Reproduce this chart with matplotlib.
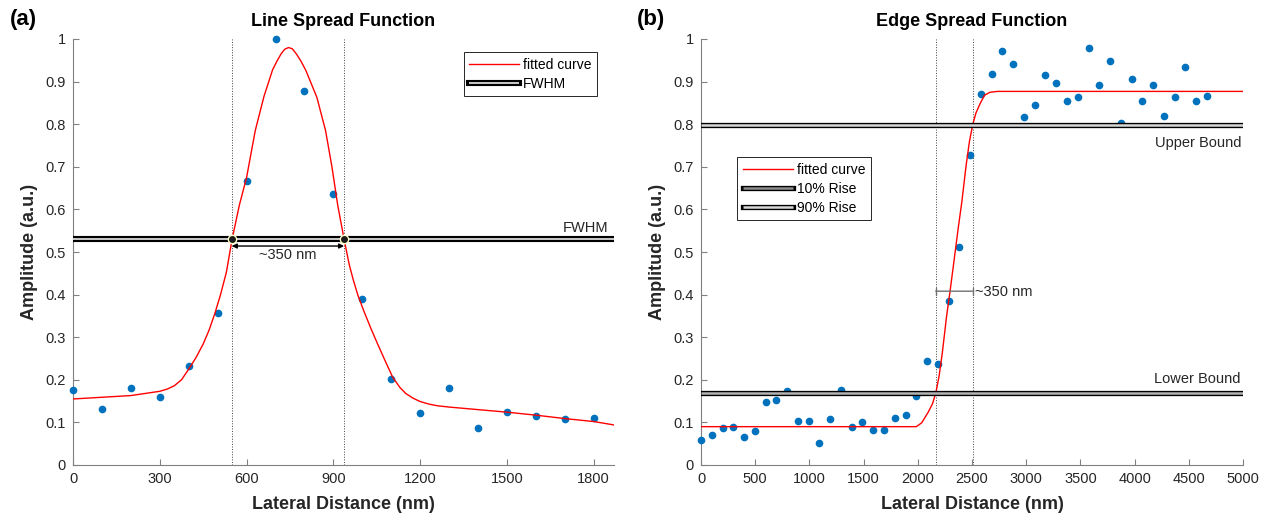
import numpy as np
import matplotlib
matplotlib.use("Agg")
import matplotlib.pyplot as plt
import matplotlib.patheffects as pe
from matplotlib.lines import Line2D

plt.rcParams['font.family'] = ['Liberation Sans', 'DejaVu Sans']

# ---- Line spread function data ----
lsf_x = [0, 100, 200, 300, 400, 500, 600, 700, 800, 900,
         1000, 1100, 1200, 1300, 1400, 1500, 1600, 1700, 1800]
lsf_y = [0.177, 0.132, 0.181, 0.160, 0.232, 0.356, 0.666, 1.000, 0.878, 0.637,
         0.389, 0.202, 0.122, 0.180, 0.087, 0.125, 0.115, 0.108, 0.110]

lsf_fit_x = [0, 100, 200, 300, 325, 350, 375, 400, 425, 450, 470, 490, 510, 530,
             550, 575, 600, 630, 660, 690, 705, 720, 732, 745, 758, 772, 788, 805,
             843, 873, 895, 915, 937, 955, 969, 985, 1005, 1030, 1053, 1080, 1105,
             1130, 1150, 1175, 1200, 1230, 1260, 1300, 1400, 1500, 1600, 1700,
             1800, 1870]
lsf_fit_y = [0.155, 0.159, 0.163, 0.173, 0.178, 0.186, 0.200, 0.225, 0.252, 0.284,
             0.316, 0.355, 0.400, 0.452, 0.530, 0.610, 0.675, 0.785, 0.865, 0.928,
             0.948, 0.966, 0.976, 0.980, 0.977, 0.965, 0.948, 0.926, 0.863, 0.785,
             0.700, 0.610, 0.530, 0.470, 0.434, 0.398, 0.362, 0.320, 0.284, 0.243,
             0.206, 0.182, 0.168, 0.157, 0.149, 0.143, 0.139, 0.136, 0.130, 0.124,
             0.117, 0.109, 0.102, 0.094]

fwhm_level = 0.53
fwhm_x = [549, 937]

# ---- Edge spread function data ----
esf_y = [0.059, 0.071, 0.086, 0.089, 0.065, 0.080, 0.149, 0.152, 0.173, 0.103,
         0.103, 0.051, 0.109, 0.175, 0.090, 0.100, 0.082, 0.082, 0.110, 0.117,
         0.162, 0.245, 0.236, 0.386, 0.512, 0.728, 0.872, 0.919, 0.972, 0.941,
         0.816, 0.844, 0.915, 0.897, 0.855, 0.865, 0.979, 0.893, 0.948, 0.803,
         0.907, 0.855, 0.893, 0.820, 0.865, 0.935, 0.854, 0.866]
esf_x = np.arange(len(esf_y)) * 99.3

esf_fit_x = [0, 1000, 1900, 1986, 2036, 2096, 2136, 2166, 2196, 2226, 2266, 2296,
             2336, 2376, 2406, 2446, 2476, 2506, 2536, 2576, 2616, 2666, 2736, 5000]
esf_fit_y = [0.090, 0.090, 0.090, 0.090, 0.099, 0.124, 0.144, 0.169, 0.208, 0.263,
             0.350, 0.405, 0.483, 0.562, 0.617, 0.704, 0.759, 0.798, 0.826, 0.849,
             0.868, 0.875, 0.877, 0.877]

lower_bound = 0.169
upper_bound = 0.797
rise_x = [2166, 2506]

RED = '#ff0000'
BLUE = '#0072bd'
AXC = '#808080'
TXT = '#262626'


def style_axes(ax, xlim, xticks):
    ax.set_xlim(*xlim)
    ax.set_ylim(0, 1)
    ax.set_xticks(xticks)
    ax.set_yticks(np.arange(0, 1.01, 0.1))
    ax.set_yticklabels(['0', '0.1', '0.2', '0.3', '0.4', '0.5', '0.6', '0.7', '0.8', '0.9', '1'])
    for s in ['top', 'right']:
        ax.spines[s].set_visible(False)
    for s in ['left', 'bottom']:
        ax.spines[s].set_color(AXC)
        ax.spines[s].set_linewidth(0.8)
    ax.tick_params(direction='in', length=4, width=0.8, color=AXC,
                   labelcolor=TXT, labelsize=10.5, pad=5)
    ax.set_ylabel('Amplitude (a.u.)', fontsize=13, fontweight='bold', color=TXT)
    ax.set_xlabel('Lateral Distance (nm)', fontsize=13, fontweight='bold', color=TXT)
    ax.yaxis.set_label_coords(-0.064, 0.5)
    ax.xaxis.set_label_coords(0.5, -0.072)


def double_line_fx(outer):
    return [pe.Stroke(linewidth=outer, foreground='black', capstyle='projecting'), pe.Normal()]


fig = plt.figure(figsize=(12.63, 5.19), dpi=100)
ax1 = fig.add_axes([73 / 1263, 1 - 465 / 519, 541 / 1263, 426 / 519])
ax2 = fig.add_axes([701 / 1263, 1 - 465 / 519, 542 / 1263, 426 / 519])

# ---------------- (a) Line Spread Function ----------------
style_axes(ax1, (0, 1870), [0, 300, 600, 900, 1200, 1500, 1800])
for xv in fwhm_x:
    ax1.axvline(xv, color='#404040', lw=0.7, ls=':', zorder=2)
ax1.plot(lsf_x, lsf_y, 'o', color=BLUE, ms=4.5, clip_on=False, zorder=3)
fit1, = ax1.plot(lsf_fit_x, lsf_fit_y, color=RED, lw=1, zorder=4, label='fitted curve')
ax1.axhline(fwhm_level, color='white', lw=1.1, solid_capstyle='butt',
            path_effects=double_line_fx(4.4), zorder=5)
ax1.plot(fwhm_x, [fwhm_level, fwhm_level], 'o', color='#1a1a1a', ms=6,
         mec='#ffffc8', mew=1, zorder=6)
ax1.annotate('', xy=(fwhm_x[1], 0.514), xytext=(fwhm_x[0], 0.514),
             arrowprops=dict(arrowstyle='<|-|>', color='black', lw=1,
                             mutation_scale=7, shrinkA=0, shrinkB=0), zorder=6)
ax1.text(743, 0.492, '~350 nm', ha='center', va='center', fontsize=10.5, color=TXT)
ax1.text(1850, 0.557, 'FWHM', ha='right', va='center', fontsize=10.5, color=TXT)
ax1.set_title('Line Spread Function', fontsize=13, fontweight='bold', color='black', pad=9)

h_fwhm = Line2D([], [], color='white', lw=1.1, solid_capstyle='butt',
                path_effects=double_line_fx(4.4))
leg1 = ax1.legend([fit1, h_fwhm], ['fitted curve', 'FWHM'], loc='upper left',
                  bbox_to_anchor=(0.722, 0.969), fontsize=10, frameon=True,
                  fancybox=False, edgecolor='#262626', framealpha=1,
                  handlelength=3.6, handletextpad=0.3, labelspacing=0.35,
                  borderpad=0.4, borderaxespad=0)
leg1.get_frame().set_linewidth(0.7)

# ---------------- (b) Edge Spread Function ----------------
style_axes(ax2, (0, 5000), list(range(0, 5001, 500)))
for xv in rise_x:
    ax2.axvline(xv, color='#404040', lw=0.7, ls=':', zorder=2)
ax2.plot(esf_x, esf_y, 'o', color=BLUE, ms=4.5, clip_on=False, zorder=3)
fit2, = ax2.plot(esf_fit_x, esf_fit_y, color=RED, lw=1, zorder=4, label='fitted curve')
ax2.axhline(lower_bound, color='#b4b4b4', lw=1.8, solid_capstyle='butt',
            path_effects=double_line_fx(3.8), zorder=5)
ax2.axhline(upper_bound, color='#d8d8d8', lw=1.8, solid_capstyle='butt',
            path_effects=double_line_fx(3.8), zorder=5)
ax2.annotate('', xy=(rise_x[1], 0.408), xytext=(rise_x[0], 0.408),
             arrowprops=dict(arrowstyle='|-|,widthA=0.25,widthB=0.25', color='#707070',
                             lw=1, shrinkA=0, shrinkB=0), zorder=6)
ax2.text(2530, 0.406, '~350 nm', ha='left', va='center', fontsize=10.5, color=TXT)
ax2.text(4985, 0.757, 'Upper Bound', ha='right', va='center', fontsize=10.5, color=TXT)
ax2.text(4975, 0.203, 'Lower Bound', ha='right', va='center', fontsize=10.5, color=TXT)
ax2.set_title('Edge Spread Function', fontsize=13, fontweight='bold', color='black', pad=9)

h_low = Line2D([], [], color='#8c8c8c', lw=1.8, solid_capstyle='butt',
               path_effects=double_line_fx(3.8))
h_up = Line2D([], [], color='#d8d8d8', lw=1.8, solid_capstyle='butt',
              path_effects=double_line_fx(3.8))
leg2 = ax2.legend([fit2, h_low, h_up], ['fitted curve', '10% Rise', '90% Rise'],
                  loc='upper left', bbox_to_anchor=(0.067, 0.722), fontsize=10,
                  frameon=True, fancybox=False, edgecolor='#262626', framealpha=1,
                  handlelength=3.6, handletextpad=0.3, labelspacing=0.35,
                  borderpad=0.4, borderaxespad=0)
leg2.get_frame().set_linewidth(0.7)

# panel letters
fig.text(10 / 1263, 1 - 20 / 519, '(a)', fontsize=16, fontweight='bold', va='center', ha='left')
fig.text(637 / 1263, 1 - 20 / 519, '(b)', fontsize=16, fontweight='bold', va='center', ha='left')

fig.savefig('out.png', dpi=100)
